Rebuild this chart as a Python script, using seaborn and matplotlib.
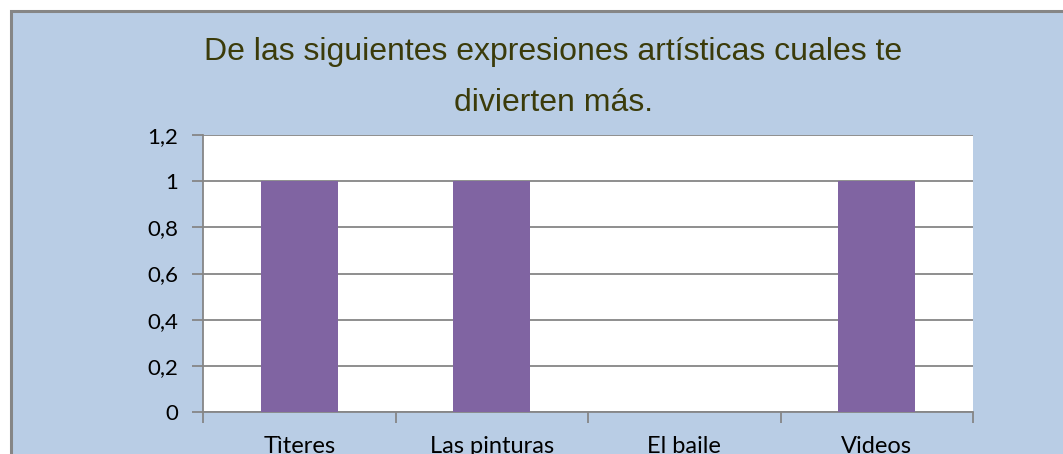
import matplotlib
matplotlib.use("Agg")
import matplotlib.pyplot as plt
import seaborn as sns
import pandas as pd
from matplotlib.patches import Rectangle

categories = ["Tìteres", "Las pinturas", "El baile", "Videos"]
values = [1, 1, 0, 1]
yticks = [0, 0.2, 0.4, 0.6, 0.8, 1.0, 1.2]
ytick_labels = ["0", "0,2", "0,4", "0,6", "0,8", "1", "1,2"]
title = "De las siguientes expresiones artísticas cuales te\ndivierten más."

sns.set_style("white")
plt.rcParams['font.family'] = ['Lato', 'DejaVu Sans']

W, H = 1063, 454
fig = plt.figure(figsize=(W / 100, H / 100), dpi=100)
fig.patch.set_facecolor("white")

bg = Rectangle((10.5 / W, -0.1), 1.2, 1 - 10.5 / H + 0.1, transform=fig.transFigure,
               facecolor="#B9CDE5", edgecolor="#868686", linewidth=2.2, zorder=-5)
fig.add_artist(bg)

ax = fig.add_axes([203 / W, (H - 412) / H, 770 / W, 277 / H])
ax.set_zorder(1)
ax.set_facecolor("white")

df = pd.DataFrame({"cat": categories, "val": values})
sns.barplot(data=df, x="cat", y="val", ax=ax, color="#8064A2", width=0.4,
            saturation=1, edgecolor="none", zorder=3)

ax.set_ylim(0, 1.2)
ax.set_xlim(-0.5, len(categories) - 0.5)
ax.set_yticks(yticks)
ax.set_yticklabels(ytick_labels, fontsize=16, color="black")
ax.yaxis.grid(True, color="#868686", linewidth=1.3, zorder=1)
ax.set_axisbelow(True)

# x ticks at boundaries, labels at centers
ax.set_xticks([i - 0.5 for i in range(len(categories) + 1)], minor=False)
ax.set_xticklabels([])
ax.set_xticks(range(len(categories)), minor=True)
ax.set_xticklabels(categories, minor=True, fontsize=17, color="black")
ax.tick_params(axis="x", which="major", direction="out", length=8, width=1.3,
               color="#868686", bottom=True)
ax.tick_params(axis="x", which="minor", length=0, pad=17)
ax.tick_params(axis="y", direction="out", length=8, width=1.3, color="#868686",
               left=True, pad=10)

for s in ["top", "right"]:
    ax.spines[s].set_visible(False)
for s in ["left", "bottom"]:
    ax.spines[s].set_color("#868686")
    ax.spines[s].set_linewidth(1.3)

ax.set_xlabel("")
ax.set_ylabel("")

fig.text(0.5 * (205 + 902) / W, 1 - 77.5 / H, title, ha="center", va="center",
         fontsize=23, color="#3B3B0A", family=["Liberation Sans", "DejaVu Sans"],
         linespacing=1.9)

fig.savefig("out.png", dpi=100)
